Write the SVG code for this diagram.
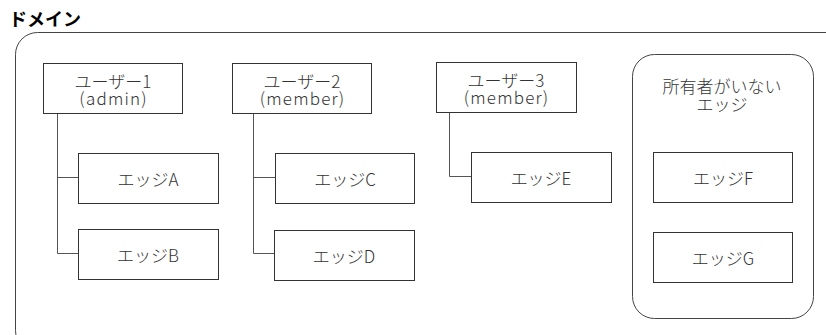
<svg xmlns="http://www.w3.org/2000/svg" width="826" height="335" viewBox="0 0 826 335">
<style>
.box{fill:#fff;stroke:#333;stroke-width:1}
.grp{fill:none;stroke:#444;stroke-width:1}
.t{font-family:"Noto Sans CJK JP","Liberation Sans",sans-serif;font-size:17px;fill:#333;text-anchor:middle;font-weight:300}
.l{letter-spacing:1.2px}
.title{font-family:"Noto Sans CJK JP","Liberation Sans",sans-serif;font-size:18px;fill:#000;font-weight:bold}
.c{fill:none;stroke:#555;stroke-width:1}
</style>
<rect width="826" height="335" fill="#fff"/>
<g id="domain">
<text class="title" x="9" y="26">ドメイン</text>
<rect class="grp" x="15.5" y="32.5" width="840" height="320" rx="22"/>
</g>
<g id="connectors">
<path class="c" d="M57.5 113V253.5H78M57.5 177.5H78"/>
<path class="c" d="M253.5 113V253.5H274M253.5 177.5H275"/>
<path class="c" d="M449.5 113V176.5H471"/>
</g>
<g id="user1">
<rect class="box" x="43.5" y="63.5" width="139" height="50"/>
<text class="t" y="87.5"><tspan x="113">ユーザー1</tspan><tspan class="l" x="113.6" y="105">(admin)</tspan></text>
</g>
<g id="user2">
<rect class="box" x="232.5" y="63.5" width="139" height="50"/>
<text class="t" y="87.5"><tspan x="302">ユーザー2</tspan><tspan class="l" x="302.6" y="105">(member)</tspan></text>
</g>
<g id="user3">
<rect class="box" x="436.5" y="62.5" width="140" height="50"/>
<text class="t" y="86.5"><tspan x="506">ユーザー3</tspan><tspan class="l" x="506.6" y="104">(member)</tspan></text>
</g>
<g id="edgeA">
<rect class="box" x="78.5" y="153.5" width="140" height="50"/>
<text class="t" x="148" y="185.5">エッジA</text>
</g>
<g id="edgeB">
<rect class="box" x="78.5" y="229.5" width="140" height="50"/>
<text class="t" x="148" y="261.5">エッジB</text>
</g>
<g id="edgeC">
<rect class="box" x="275.5" y="153.5" width="139" height="50"/>
<text class="t" x="345" y="185.5">エッジC</text>
</g>
<g id="edgeD">
<rect class="box" x="274.5" y="230.5" width="140" height="50"/>
<text class="t" x="344" y="262.5">エッジD</text>
</g>
<g id="edgeE">
<rect class="box" x="471.5" y="152.5" width="140" height="50"/>
<text class="t" x="541" y="184.5">エッジE</text>
</g>
<g id="unowned">
<rect class="grp" x="632.5" y="54.5" width="181" height="264" rx="22"/>
<text class="t" y="93"><tspan x="722">所有者がいない</tspan><tspan x="722" y="110.5">エッジ</tspan></text>
</g>
<g id="edgeF">
<rect class="box" x="653.5" y="152.5" width="139" height="50"/>
<text class="t" x="723" y="184.5">エッジF</text>
</g>
<g id="edgeG">
<rect class="box" x="653.5" y="232.5" width="139" height="50"/>
<text class="t" x="723" y="264.5">エッジG</text>
</g>
</svg>
